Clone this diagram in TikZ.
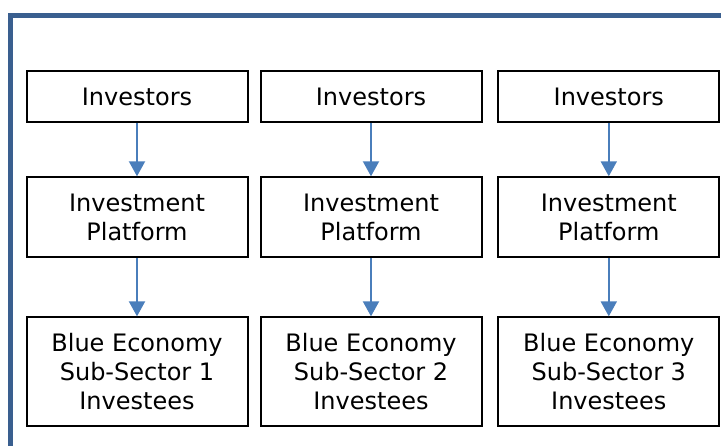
\documentclass[tikz,border=0pt]{standalone}
\usepackage{fontspec}
\setmainfont{DejaVu Sans}
\usetikzlibrary{arrows.meta}
\definecolor{framecol}{HTML}{3A5F8F}
\definecolor{arrcol}{HTML}{4A7EBB}
\begin{document}
\begin{tikzpicture}[x=1pt,y=-1pt,
  boxa/.style={draw=black,line width=2pt,rectangle,inner sep=0pt,align=center,
    minimum width=221pt,font=\fontsize{24}{29.3}\selectfont},
  rowa/.style={boxa,minimum height=51pt},
  rowb/.style={boxa,minimum height=80pt},
  rowc/.style={boxa,minimum height=108.7pt},
  arr/.style={draw=arrcol,line width=2pt,-{Triangle[width=16pt,length=15pt]}}]
\useasboundingbox (0,0) rectangle (721,446);
\begin{scope}
\clip (0,0) rectangle (721,446);
\draw[framecol,line width=5pt] (10.8,15.8) rectangle (760,480);
\end{scope}
\node[rowa] (i1) at (137,96.5) {Investors};
\node[rowa] (i2) at (371,96.5) {Investors};
\node[rowa] (i3) at (608.8,96.5) {Investors};
\node[rowb] (p1) at (137,217.3) {Investment\\Platform};
\node[rowb] (p2) at (371,217.3) {Investment\\Platform};
\node[rowb] (p3) at (608.8,217.3) {Investment\\Platform};
\node[rowc] (b1) at (137,371.7) {Blue Economy\\Sub-Sector 1\\Investees};
\node[rowc] (b2) at (371,371.7) {Blue Economy\\Sub-Sector 2\\Investees};
\node[rowc] (b3) at (608.8,371.7) {Blue Economy\\Sub-Sector 3\\Investees};
\foreach \k in {1,2,3}{
  \draw[arr] (i\k) -- (p\k);
  \draw[arr] (p\k) -- (b\k);
}
\end{tikzpicture}
\end{document}
